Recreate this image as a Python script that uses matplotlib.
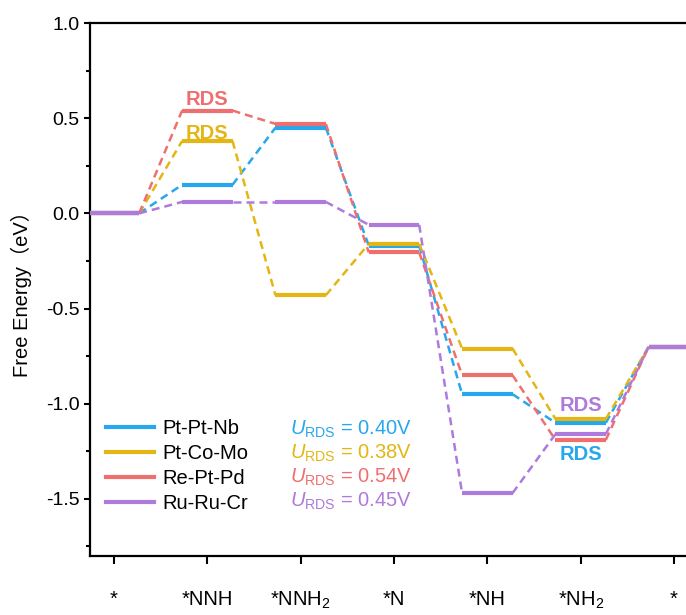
"""
Free energy diagram for NRR on four triple-atom catalysts
"""
import matplotlib
matplotlib.use('Agg')
import matplotlib.pyplot as plt
from matplotlib.lines import Line2D
from matplotlib.ticker import MultipleLocator

plt.rcParams['font.family'] = ['Liberation Sans', 'Noto Sans CJK SC']
plt.rcParams['mathtext.fontset'] = 'custom'
plt.rcParams['mathtext.rm'] = 'Liberation Sans'
plt.rcParams['mathtext.it'] = 'Liberation Sans:italic'
plt.rcParams['mathtext.bf'] = 'Liberation Sans:bold'

# reaction intermediates
steps = ['*', '*NNH', '*NNH$_2$', '*N', '*NH', '*NH$_2$', '*']

# free energies (eV)
pt_pt_nb = [0.0, 0.15, 0.45, -0.17, -0.95, -1.10, -0.70]
pt_co_mo = [0.0, 0.38, -0.43, -0.16, -0.71, -1.08, -0.70]
re_pt_pd = [0.0, 0.54, 0.47, -0.205, -0.85, -1.19, -0.70]
ru_ru_cr = [0.0, 0.06, 0.06, -0.06, -1.47, -1.16, -0.70]

names = ['Pt-Pt-Nb', 'Pt-Co-Mo', 'Re-Pt-Pd', 'Ru-Ru-Cr']
u_rds = ['0.40', '0.38', '0.54', '0.45']
colors = ['#27A8EE', '#E3B614', '#EF6F6F', '#AE7ADB']
series = [pt_pt_nb, pt_co_mo, re_pt_pd, ru_ru_cr]

half = 0.27  # half width of each level
fs = 14.5

fig = plt.figure(figsize=(6.86, 6.15), dpi=100)
ax = fig.add_axes([90 / 686, 59 / 615, 596 / 686, 533 / 615])

for vals, c in zip(series, colors):
    xs = range(len(vals))
    for i, v in zip(xs, vals):
        ax.plot([i - half, i + half], [v, v], color=c, lw=3,
                solid_capstyle='butt', zorder=3)
    for i in range(len(vals) - 1):
        ax.plot([i + half, i + 1 - half], [vals[i], vals[i + 1]], color=c,
                lw=1.8, linestyle=(0, (3.2, 2.0)), zorder=2)

# RDS markers
ax.text(1, re_pt_pd[1] + 0.03, 'RDS', color=colors[2], fontsize=fs,
        fontweight='bold', ha='center', va='baseline')
ax.text(1, pt_co_mo[1] + 0.013, 'RDS', color=colors[1], fontsize=fs,
        fontweight='bold', ha='center', va='baseline')
ax.text(5, pt_co_mo[5] + 0.04, 'RDS', color=colors[3], fontsize=fs,
        fontweight='bold', ha='center', va='baseline')
ax.text(5, re_pt_pd[5] - 0.107, 'RDS', color=colors[0], fontsize=fs,
        fontweight='bold', ha='center', va='baseline')

# legend
handles = [Line2D([], [], color=c, lw=3) for c in colors]
ax.legend(handles, names, loc='upper left', bbox_to_anchor=(0.013, 0.272),
          frameon=False, fontsize=fs, handlelength=2.4, handletextpad=0.4,
          labelspacing=0.30, borderaxespad=0)

row_y = [0.228, 0.183, 0.138, 0.093]
for y, u, c in zip(row_y, u_rds, colors):
    ax.text(0.336, y, r'$U_{\mathrm{RDS}}$ = ' + u + 'V', color=c,
            fontsize=fs, transform=ax.transAxes, va='baseline')

ax.set_xlim(-0.257, 6.129)
ax.set_ylim(-1.8, 1.0)
ax.set_xticks(range(len(steps)))
ax.set_xticklabels(steps)
for lbl in ax.get_xticklabels():
    lbl.set_va('baseline')
ax.yaxis.set_major_locator(MultipleLocator(0.5))
ax.yaxis.set_minor_locator(MultipleLocator(0.25))
ax.set_yticks([1.0, 0.5, 0.0, -0.5, -1.0, -1.5])
ax.set_yticklabels(['1.0', '0.5', '0.0', '-0.5', '-1.0', '-1.5'])

ax.tick_params(axis='x', direction='out', length=6, width=1.5, pad=29.5,
               labelsize=fs)
ax.tick_params(axis='y', which='major', direction='out', length=4, width=1.5,
               pad=3.5, labelsize=14)
ax.tick_params(axis='y', which='minor', direction='out', length=3, width=1.5)

ax.set_ylabel('Free Energy（eV）', fontsize=fs)
ax.yaxis.set_label_coords(-0.097, 0.5)

for s in ['left', 'bottom', 'top']:
    ax.spines[s].set_linewidth(1.6)
ax.spines['right'].set_visible(False)

fig.savefig('out.png', dpi=100)
